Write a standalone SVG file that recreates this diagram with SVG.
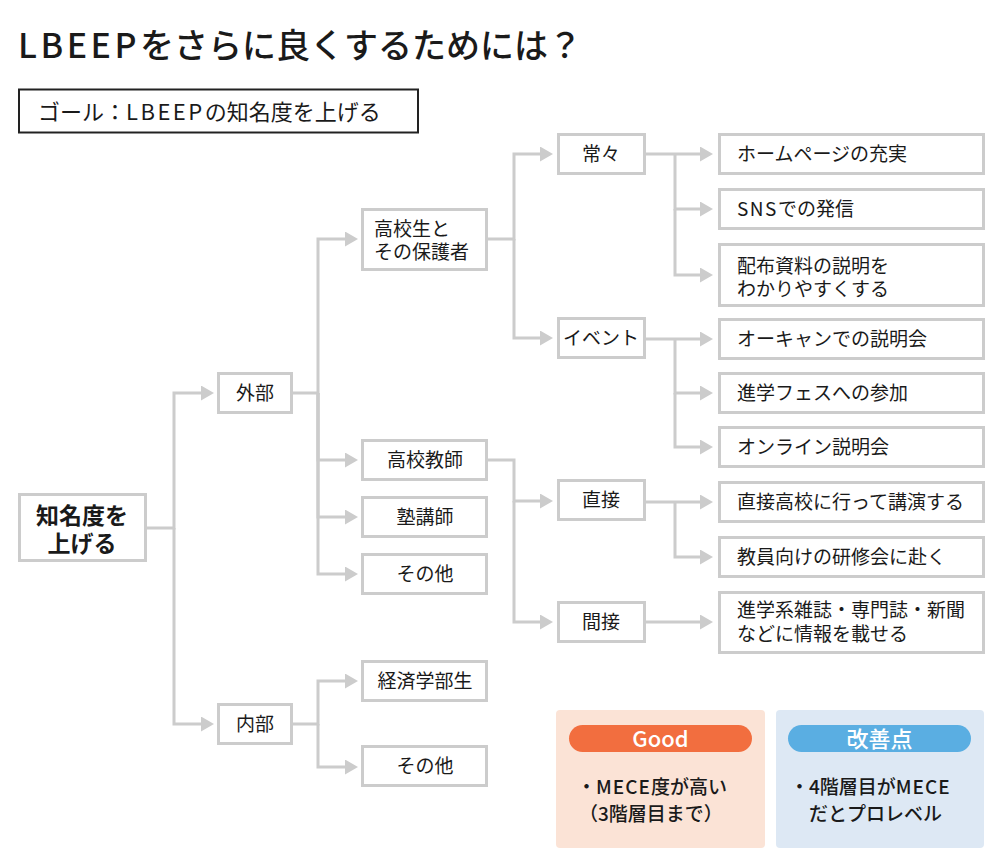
<svg xmlns="http://www.w3.org/2000/svg" width="1000" height="866" viewBox="0 0 1000 866">
<style>
text{font-family:"Noto Sans CJK JP","Noto Sans",sans-serif;fill:#1a1a1a}
.box{fill:#fff;stroke:#cccccc;stroke-width:3}
.t{font-size:19px;font-weight:400}
.c{text-anchor:middle}
.con{fill:none;stroke:#cccccc;stroke-width:3}
.w{fill:#fff;font-size:22px;font-weight:500;text-anchor:middle}
.b{font-size:19px;font-weight:500}
</style>
<defs>
<marker id="ah" markerUnits="userSpaceOnUse" markerWidth="14" markerHeight="16" refX="0" refY="7.5" orient="auto" viewBox="0 0 14 16">
<path d="M0,0 L13,7.5 L0,15 Z" fill="#cccccc"/>
</marker>
</defs>
<rect width="1000" height="866" fill="#fff"/>
<text x="18" y="58" style="font-size:34px;font-weight:500"><tspan letter-spacing="3.5">LBEEP</tspan>をさらに良くするためには？</text>
<g id="goal">
<rect x="19" y="89.5" width="399" height="43" fill="#fff" stroke="#222" stroke-width="2"/>
<text x="38" y="120" style="font-size:22px;font-weight:400">ゴール：<tspan letter-spacing="2.5">LBEEP</tspan>の知名度を上げる</text>
</g>
<g id="connectors">
<path class="con" marker-end="url(#ah)" d="M147,528 H174 V393 H201"/>
<path class="con" marker-end="url(#ah)" d="M174,528 V724 H201"/>
<path class="con" marker-end="url(#ah)" d="M293,393 H318 V239 H345"/>
<path class="con" marker-end="url(#ah)" d="M318,393 V460 H345"/>
<path class="con" marker-end="url(#ah)" d="M318,393 V517 H345"/>
<path class="con" marker-end="url(#ah)" d="M318,393 V574 H345"/>
<path class="con" marker-end="url(#ah)" d="M293,724 H318 V681 H345"/>
<path class="con" marker-end="url(#ah)" d="M318,724 V767 H345"/>
<path class="con" marker-end="url(#ah)" d="M488,239 H514 V154 H540"/>
<path class="con" marker-end="url(#ah)" d="M514,239 V338 H540"/>
<path class="con" marker-end="url(#ah)" d="M488,460 H514 V501 H540"/>
<path class="con" marker-end="url(#ah)" d="M514,501 V622 H540"/>
<path class="con" marker-end="url(#ah)" d="M646,154 H700"/>
<path class="con" marker-end="url(#ah)" d="M675,154 V209 H700"/>
<path class="con" marker-end="url(#ah)" d="M675,209 V275 H700"/>
<path class="con" marker-end="url(#ah)" d="M646,339 H700"/>
<path class="con" marker-end="url(#ah)" d="M675,339 V393 H700"/>
<path class="con" marker-end="url(#ah)" d="M675,393 V447 H700"/>
<path class="con" marker-end="url(#ah)" d="M646,502 H700"/>
<path class="con" marker-end="url(#ah)" d="M675,502 V557 H700"/>
<path class="con" marker-end="url(#ah)" d="M646,622 H700"/>
</g>
<g id="n-root"><rect class="box" x="19.5" y="494.5" width="126" height="66"/>
<text class="c" style="font-size:23px;font-weight:700"><tspan x="82" y="524">知名度を</tspan><tspan x="82" y="552">上げる</tspan></text></g>
<g id="n-gaibu"><rect class="box" x="218.5" y="373.5" width="73" height="39"/><text class="t c" x="255" y="400">外部</text></g>
<g id="n-naibu"><rect class="box" x="218.5" y="704.5" width="73" height="39"/><text class="t c" x="255" y="731">内部</text></g>
<g id="n-koukousei"><rect class="box" x="362.5" y="209.5" width="124" height="60"/>
<text class="t"><tspan x="374" y="236">高校生と</tspan><tspan x="374" y="259">その保護者</tspan></text></g>
<g id="n-kyoushi"><rect class="box" x="362.5" y="440.5" width="124" height="39"/><text class="t c" x="425" y="467">高校教師</text></g>
<g id="n-juku"><rect class="box" x="362.5" y="497.5" width="124" height="39"/><text class="t c" x="425" y="524">塾講師</text></g>
<g id="n-sonota1"><rect class="box" x="362.5" y="554.5" width="124" height="39"/><text class="t c" x="425" y="581">その他</text></g>
<g id="n-keizai"><rect class="box" x="362.5" y="661.5" width="124" height="39"/><text class="t c" x="425" y="688">経済学部生</text></g>
<g id="n-sonota2"><rect class="box" x="362.5" y="746.5" width="124" height="39"/><text class="t c" x="425" y="773">その他</text></g>
<g id="n-tsunezune"><rect class="box" x="558.5" y="134.5" width="86" height="39"/><text class="t c" x="601" y="161">常々</text></g>
<g id="n-event"><rect class="box" x="558.5" y="318.5" width="86" height="39"/><text class="t c" x="601" y="345">イベント</text></g>
<g id="n-chokusetsu"><rect class="box" x="558.5" y="480.5" width="86" height="39"/><text class="t c" x="601" y="507">直接</text></g>
<g id="n-kansetsu"><rect class="box" x="558.5" y="602.5" width="86" height="39"/><text class="t c" x="601" y="629">間接</text></g>
<g id="n-hp"><rect class="box" x="719.5" y="134.5" width="264" height="39"/><text class="t" x="737" y="161">ホームページの充実</text></g>
<g id="n-sns"><rect class="box" x="719.5" y="189.5" width="264" height="39"/><text class="t" x="737" y="216"><tspan letter-spacing="1.5">SNS</tspan>での発信</text></g>
<g id="n-haifu"><rect class="box" x="719.5" y="244.5" width="264" height="61"/>
<text class="t"><tspan x="737" y="273">配布資料の説明を</tspan><tspan x="737" y="296">わかりやすくする</tspan></text></g>
<g id="n-ocan"><rect class="box" x="719.5" y="319.5" width="264" height="39"/><text class="t" x="737" y="346">オーキャンでの説明会</text></g>
<g id="n-fes"><rect class="box" x="719.5" y="373.5" width="264" height="39"/><text class="t" x="737" y="400">進学フェスへの参加</text></g>
<g id="n-online"><rect class="box" x="719.5" y="427.5" width="264" height="39"/><text class="t" x="737" y="454">オンライン説明会</text></g>
<g id="n-kouen"><rect class="box" x="719.5" y="482.5" width="264" height="39"/><text class="t" x="737" y="509">直接高校に行って講演する</text></g>
<g id="n-kenshu"><rect class="box" x="719.5" y="537.5" width="264" height="39"/><text class="t" x="737" y="564">教員向けの研修会に赴く</text></g>
<g id="n-zasshi"><rect class="box" x="719.5" y="592.5" width="264" height="60"/>
<text class="t"><tspan x="737" y="617">進学系雑誌・専門誌・新聞</tspan><tspan x="737" y="641">などに情報を載せる</tspan></text></g>
<g id="good">
<rect x="556" y="710" width="209" height="138" rx="4" fill="#fbe3d6"/>
<rect x="569" y="725" width="183" height="27" rx="13.5" fill="#f26e3f"/>
<text class="w" x="660.5" y="747">Good</text>
<text class="b"><tspan x="577" y="794">・<tspan letter-spacing="1">MECE</tspan>度が高い</tspan><tspan x="579" y="821">（3階層目まで）</tspan></text>
</g>
<g id="kaizen">
<rect x="776" y="710" width="208" height="138" rx="4" fill="#dde8f4"/>
<rect x="788" y="725" width="183" height="27" rx="13.5" fill="#5aaee2"/>
<text class="w" x="879.5" y="747">改善点</text>
<text class="b"><tspan x="790" y="794">・4階層目が<tspan letter-spacing="1">MECE</tspan></tspan><tspan x="809" y="821">だとプロレベル</tspan></text>
</g>
</svg>
